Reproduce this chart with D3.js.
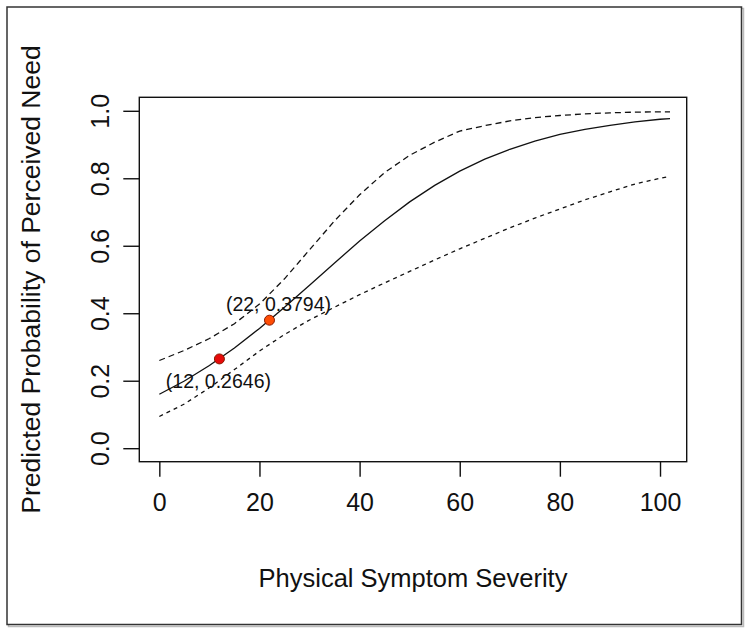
<!DOCTYPE html>
<html>
<head>
<meta charset="utf-8">
<script src="https://cdn.jsdelivr.net/npm/d3@7"></script>
<style>
  html, body { margin: 0; padding: 0; background: #fff; }
  svg { display: block; }
  text { font-family: "Liberation Sans", Arial, sans-serif; fill: #111; }
</style>
</head>
<body>
<svg id="chart" width="750" height="633"></svg>
<script>
// ---- data ----
const severity = [0, 5, 10, 15, 20, 25, 30, 35, 40, 45, 50, 55, 60, 65, 70, 75, 80, 85, 90, 95, 100, 102];
const fitted   = [0.160, 0.199, 0.245, 0.297, 0.355, 0.418, 0.483, 0.549, 0.614, 0.674, 0.730, 0.779, 0.821, 0.857, 0.886, 0.910, 0.930, 0.945, 0.957, 0.967, 0.975, 0.977];
const upperCI  = [0.260, 0.290, 0.325, 0.369, 0.427, 0.502, 0.588, 0.674, 0.751, 0.817, 0.868, 0.907, 0.940, 0.956, 0.970, 0.980, 0.986, 0.991, 0.994, 0.996, 0.997, 0.997];
const lowerCI  = [0.094, 0.131, 0.179, 0.233, 0.288, 0.337, 0.380, 0.418, 0.455, 0.490, 0.524, 0.558, 0.591, 0.622, 0.653, 0.682, 0.709, 0.736, 0.760, 0.783, 0.800, 0.806];
const markedX  = [12, 22];
const markedY  = [0.2646, 0.3794];
const markedLabels = ["(12, 0.2646)", "(22, 0.3794)"];
const markedColors = ["#e60a0a", "#ff4d05"];
const xTicks = [0, 20, 40, 60, 80, 100];
const yTicks = [0.0, 0.2, 0.4, 0.6, 0.8, 1.0];
const xTitle = "Physical Symptom Severity";
const yTitle = "Predicted Probability of Perceived Need";

// ---- layout ----
const svg = d3.select("#chart");
const box = { left: 139.3, right: 686.7, top: 97.3, bottom: 461.7 };

const x = d3.scaleLinear().domain([-4, 105.33]).range([box.left, box.right]);
const y = d3.scaleLinear().domain([-0.04, 1.04]).range([box.bottom, box.top]);

// outer frame with slight shadow
svg.append("rect").attr("x", 8.5).attr("y", 8.5).attr("width", 735).attr("height", 618)
  .attr("fill", "none").attr("stroke", "#bbb").attr("stroke-width", 1.5);
svg.append("rect").attr("x", 7).attr("y", 7).attr("width", 734.5).attr("height", 617.5)
  .attr("fill", "#fff").attr("stroke", "#333").attr("stroke-width", 1.5);

// plot box
svg.append("rect")
  .attr("x", box.left).attr("y", box.top)
  .attr("width", box.right - box.left).attr("height", box.bottom - box.top)
  .attr("fill", "none").attr("stroke", "#111").attr("stroke-width", 1.4);

// x axis
const xAxis = svg.append("g")
  .attr("transform", `translate(0,${box.bottom})`)
  .call(d3.axisBottom(x).tickValues(xTicks).tickSize(15).tickPadding(17).tickFormat(d3.format("d")));
xAxis.select(".domain").remove();
xAxis.selectAll("line").attr("stroke", "#111").attr("stroke-width", 1.4);
xAxis.selectAll("text").attr("font-size", 25).attr("font-family", "Liberation Sans, Arial, sans-serif").attr("fill", "#111");

// y axis
const yAxis = svg.append("g")
  .attr("transform", `translate(${box.left},0)`)
  .call(d3.axisLeft(y).tickValues(yTicks).tickSize(16).tickFormat(d3.format(".1f")));
yAxis.select(".domain").remove();
yAxis.selectAll("line").attr("stroke", "#111").attr("stroke-width", 1.4);
yAxis.selectAll("text")
  .attr("font-size", 25).attr("font-family", "Liberation Sans, Arial, sans-serif").attr("fill", "#111")
  .attr("x", 0).attr("y", -30).attr("dy", null)
  .attr("text-anchor", "middle")
  .attr("transform", "rotate(-90)");

// axis titles
svg.append("text")
  .attr("x", (box.left + box.right) / 2).attr("y", 587)
  .attr("text-anchor", "middle").attr("font-size", 25.5)
  .text(xTitle);
svg.append("text")
  .attr("transform", `translate(40,${(box.top + box.bottom) / 2}) rotate(-90)`)
  .attr("text-anchor", "middle").attr("font-size", 26.5)
  .text(yTitle);

// curves
const mk = vals => d3.line().x((d, i) => x(severity[i])).y(d => y(d))(vals);

svg.append("path").attr("d", mk(upperCI))
  .attr("fill", "none").attr("stroke", "#111").attr("stroke-width", 1.3)
  .attr("stroke-dasharray", "6,4");
svg.append("path").attr("d", mk(lowerCI))
  .attr("fill", "none").attr("stroke", "#111").attr("stroke-width", 1.3)
  .attr("stroke-dasharray", "4,4");
svg.append("path").attr("d", mk(fitted))
  .attr("fill", "none").attr("stroke", "#111").attr("stroke-width", 1.3);

// marked points
svg.selectAll("circle.pt").data(markedX).enter().append("circle")
  .attr("class", "pt")
  .attr("cx", d => x(d)).attr("cy", (d, i) => y(markedY[i]))
  .attr("r", 5)
  .attr("fill", (d, i) => markedColors[i])
  .attr("stroke", "#8a1a00").attr("stroke-width", 1);

// point labels: first below, second above
const labelDx = [-1, 9];
const labelDy = [29, -9];
svg.selectAll("text.lbl").data(markedX).enter().append("text")
  .attr("class", "lbl")
  .attr("x", (d, i) => x(d) + labelDx[i])
  .attr("y", (d, i) => y(markedY[i]) + labelDy[i])
  .attr("text-anchor", "middle").attr("font-size", 19.5)
  .text((d, i) => markedLabels[i]);
</script>
</body>
</html>
